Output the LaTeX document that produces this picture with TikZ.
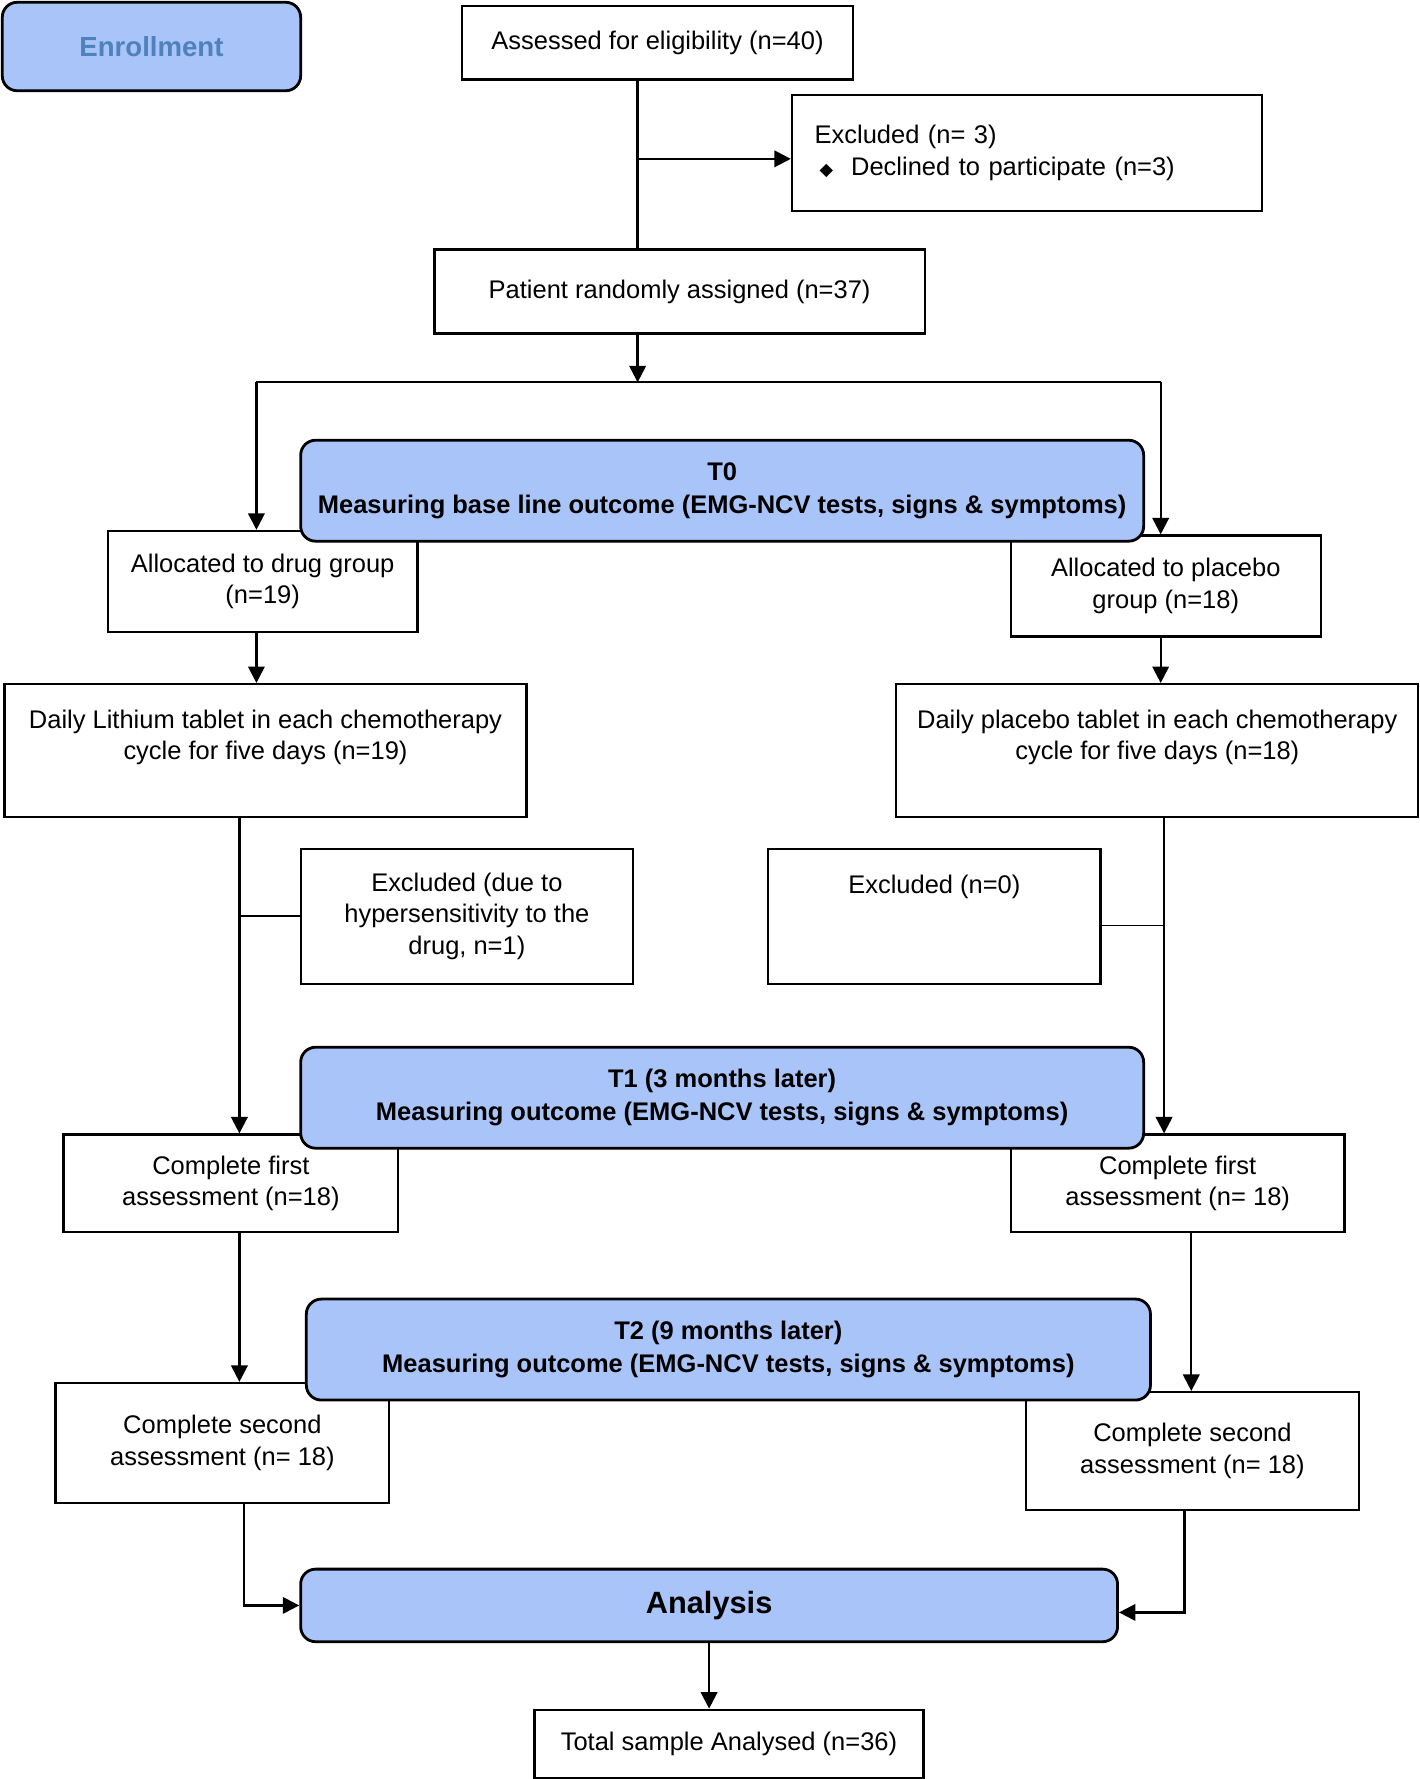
\documentclass[tikz,border=0pt]{standalone}
\usepackage{fontspec}
\setmainfont{Liberation Sans}
\newfontfamily\symfont{DejaVu Sans}
\usetikzlibrary{arrows.meta}
\definecolor{phase}{RGB}{169,196,248}
\definecolor{enroltext}{RGB}{79,129,189}
\newcommand{\pxu}{0.022686cm}
\tikzset{
    sz/.style 2 args={minimum width=#1*\pxu, minimum height=#2*\pxu},
    arr/.style={line width=1.3pt, -{Triangle[length=3.3mm,width=3.3mm]}},
    link/.style={line width=1.3pt},
}
\begin{document}
\begin{tikzpicture}[x=\pxu, y=-\pxu]
            \useasboundingbox (0,0) rectangle (1251,1568);
            \begin{scope}[every node/.style={draw,line width=1.3pt,fill=white,align=center,inner sep=0pt,font=\fontsize{14.5}{18}\selectfont}]
                \node[sz={345}{65}] (assess) at (579.5,37.5) {Assessed for eligibility (n=40)};
                \node[sz={414}{102}, align=left, text width=374*\pxu, inner xsep=20*\pxu] (excl) at (905,135)
                    {Excluded (n= 3)\\\hspace*{0.1cm}{\symfont\fontsize{10}{10}\selectfont ◆}\hspace{0.36cm}Declined to participate (n=3)};
                \node[sz={432}{74}] (rand) at (599,257) {Patient randomly assigned (n=37)};
                \node[sz={273}{89}] (drug) at (231.5,512.5) {Allocated to drug group\\(n=19)};
                \node[sz={273}{89}] (plac) at (1027.5,516.5) {Allocated to placebo\\group (n=18)};
                \node[sz={460}{117}] (lith) at (234,661.5) {Daily Lithium tablet in each chemotherapy\\cycle for five days (n=19)\\\mbox{}};
                \node[sz={460}{117}] (ptab) at (1020,661.5) {Daily placebo tablet in each chemotherapy\\cycle for five days (n=18)\\\mbox{}};
                \node[sz={293}{119}] (exhyp) at (411.5,807.5) {Excluded (due to\\hypersensitivity to the\\drug, n=1)};
                \node[sz={293}{119}] (exzero) at (823.5,807.5) {Excluded (n=0)\\\mbox{}\\\mbox{}};
                \node[sz={295}{86}] (firstL) at (203.5,1043) {Complete first\\assessment (n=18)};
                \node[sz={294}{86}] (firstR) at (1038,1043) {Complete first\\assessment (n= 18)};
                \node[sz={294}{106}] (secondL) at (196,1272) {Complete second\\assessment (n= 18)};
                \node[sz={294}{104}] (secondR) at (1051,1279) {Complete second\\assessment (n= 18)};
                \node[sz={343}{60}] (total) at (642.5,1537) {Total sample Analysed (n=36)};
            \end{scope}
            \begin{scope}[every node/.style={draw,line width=1.6pt,fill=phase,rounded corners=0.3cm,align=center,inner sep=0pt,font=\bfseries\fontsize{14.5}{18.5}\selectfont}]
                \node[sz={263}{78}, text=enroltext, font=\bfseries\fontsize{15.7}{18}\selectfont] (enrol) at (133.5,41) {Enrollment};
                \node[sz={743}{89}] (tzero) at (636.5,432.5) {T0\\Measuring base line outcome (EMG-NCV tests, signs \& symptoms)};
                \node[sz={743}{89}] (tone) at (636.5,967.5) {T1 (3 months later)\\Measuring outcome (EMG-NCV tests, signs \& symptoms)};
                \node[sz={744}{89}] (ttwo) at (642,1189.5) {T2 (9 months later)\\Measuring outcome (EMG-NCV tests, signs \& symptoms)};
                \node[sz={720}{64}, font=\bfseries\fontsize{17.5}{21}\selectfont] (analysis) at (625,1415) {Analysis};
            \end{scope}
            % connector columns
            \coordinate (trunk) at (562,140);
            \coordinate (split) at (562,337);
            \coordinate (lsplit) at (226,337);
            \coordinate (rsplit) at (1023,337);
            \coordinate (lcol) at (211,0);
            \coordinate (rcol) at (1026,0);
            \coordinate (rcolb) at (1050,0);
            \coordinate (lout) at (215,0);
            \coordinate (rout) at (1044,0);
            \draw[link] (assess.south -| trunk) -- (rand.north -| trunk);
            \draw[arr] (trunk) -- (trunk -| excl.west);
            \draw[arr] (rand.south -| split) -- (split);
            \draw[link] (lsplit) -- (rsplit);
            \draw[arr] (lsplit) -- (lsplit |- drug.north);
            \draw[arr] (rsplit) -- (rsplit |- plac.north);
            \draw[arr] (lsplit |- drug.south) -- (lsplit |- lith.north);
            \draw[arr] (rsplit |- plac.south) -- (rsplit |- ptab.north);
            \draw[arr] (lith.south -| lcol) -- (firstL.north -| lcol);
            \draw[line width=0.8pt] (exhyp.west -| lcol) -- (exhyp.west);
            \draw[arr] (ptab.south -| rcol) -- (firstR.north -| rcol);
            \draw[line width=0.8pt] ([yshift=-0.19cm]exzero.east) -- ([yshift=-0.19cm]exzero.east -| rcol);
            \draw[arr] (firstL.south -| lcol) -- (secondL.north -| lcol);
            \draw[arr] (firstR.south -| rcolb) -- (secondR.north -| rcolb);
            \draw[arr] (secondL.south -| lout) |- (analysis.west);
            \draw[arr] (secondR.south -| rout) |- ([yshift=-0.14cm]analysis.east);
            \draw[arr] (analysis.south) -- (analysis.south |- total.north);
        \end{tikzpicture}
\end{document}
